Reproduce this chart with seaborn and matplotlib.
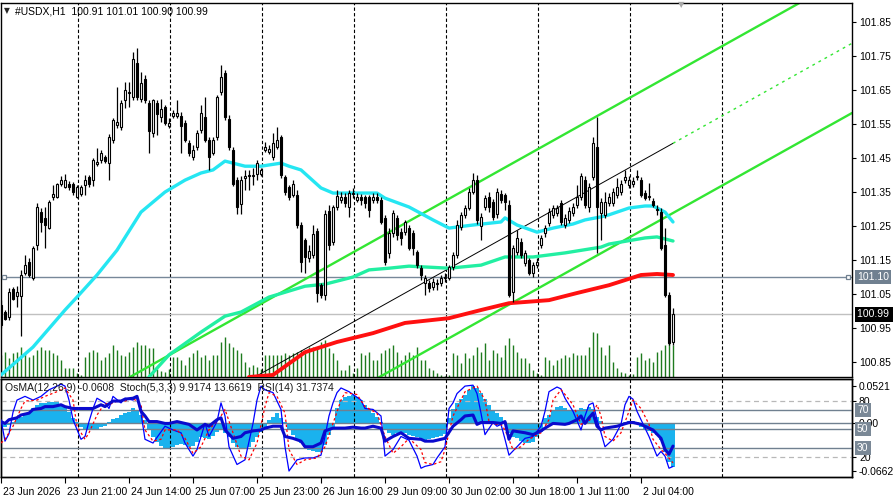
import numpy as np
import matplotlib
matplotlib.use("Agg")
import matplotlib.pyplot as plt
import matplotlib.transforms as mtransforms
import seaborn as sns

# ---------------- data ----------------
opens = [101.018,100.997,100.983,101.065,101.044,101.044,101.112,101.144,101.097,101.194,
101.291,101.274,101.244,101.336,101.336,101.374,101.365,101.374,101.374,101.336,
101.344,101.371,101.394,101.386,101.433,101.444,101.453,101.436,101.503,101.547,
101.541,101.621,101.641,101.630,101.730,101.624,101.683,101.612,101.524,101.612,
101.571,101.600,101.544,101.574,101.574,101.574,101.553,101.494,101.453,101.483,
101.533,101.571,101.503,101.465,101.512,101.644,101.700,101.565,101.474,101.386,
101.315,101.391,101.397,101.397,101.403,101.403,101.474,101.468,101.453,101.483,
101.512,101.394,101.365,101.342,101.342,101.253,101.209,101.156,101.165,101.236,
101.077,101.047,101.294,101.203,101.306,101.327,101.336,101.306,101.344,101.327,
101.336,101.336,101.336,101.327,101.336,101.327,101.274,101.171,101.230,101.274,
101.233,101.233,101.244,101.230,101.174,101.127,101.083,101.083,101.071,101.080,
101.083,101.097,101.097,101.130,101.165,101.247,101.283,101.303,101.350,101.386,
101.250,101.306,101.336,101.321,101.286,101.344,101.342,101.312,101.056,101.174,
101.203,101.142,101.150,101.112,101.136,101.194,101.230,101.259,101.283,101.289,
101.318,101.253,101.268,101.289,101.312,101.336,101.386,101.306,101.394,101.483,
101.289,101.283,101.318,101.318,101.342,101.350,101.386,101.371,101.374,101.394,
101.386,101.347,101.336,101.324,101.297,101.291,101.194,101.047,100.910]
highs = [101.033,101.003,101.068,101.071,101.074,101.121,101.165,101.156,101.191,101.318,
101.303,101.306,101.327,101.371,101.377,101.397,101.403,101.383,101.380,101.371,
101.371,101.400,101.400,101.450,101.480,101.474,101.459,101.521,101.568,101.659,
101.621,101.674,101.674,101.762,101.774,101.703,101.694,101.621,101.624,101.621,
101.624,101.606,101.568,101.591,101.621,101.586,101.562,101.503,101.489,101.533,
101.606,101.630,101.512,101.512,101.636,101.724,101.709,101.577,101.483,101.394,
101.397,101.415,101.415,101.421,101.444,101.421,101.497,101.489,101.524,101.541,
101.518,101.400,101.371,101.386,101.356,101.262,101.215,101.194,101.253,101.244,
101.083,101.297,101.312,101.312,101.356,101.350,101.347,101.356,101.362,101.347,
101.344,101.342,101.342,101.347,101.347,101.336,101.283,101.244,101.297,101.283,
101.244,101.268,101.253,101.239,101.180,101.136,101.106,101.091,101.097,101.094,
101.106,101.112,101.136,101.174,101.268,101.291,101.312,101.362,101.406,101.400,
101.289,101.342,101.350,101.330,101.362,101.356,101.347,101.327,101.194,101.239,
101.215,101.180,101.156,101.144,101.156,101.224,101.253,101.303,101.312,101.312,
101.327,101.286,101.306,101.318,101.371,101.406,101.397,101.377,101.512,101.571,
101.333,101.350,101.347,101.362,101.391,101.386,101.415,101.397,101.394,101.415,
101.394,101.356,101.377,101.333,101.312,101.303,101.244,101.056,101.010]
lows = [100.950,100.974,100.974,101.033,101.012,100.927,101.106,101.100,101.091,101.180,
101.233,101.186,101.242,101.327,101.333,101.368,101.362,101.356,101.342,101.333,
101.339,101.342,101.365,101.368,101.427,101.436,101.436,101.386,101.494,101.539,
101.533,101.597,101.600,101.621,101.621,101.615,101.612,101.465,101.512,101.518,
101.556,101.547,101.539,101.568,101.568,101.465,101.497,101.456,101.444,101.474,
101.524,101.497,101.415,101.459,101.503,101.636,101.562,101.474,101.368,101.286,
101.286,101.356,101.356,101.371,101.386,101.397,101.468,101.462,101.444,101.477,
101.391,101.342,101.327,101.336,101.244,101.115,101.112,101.144,101.156,101.027,
101.039,101.033,101.180,101.194,101.297,101.318,101.306,101.277,101.333,101.321,
101.312,101.303,101.277,101.318,101.318,101.256,101.136,101.156,101.218,101.209,
101.194,101.224,101.180,101.165,101.127,101.091,101.047,101.056,101.062,101.062,
101.074,101.086,101.091,101.121,101.156,101.239,101.274,101.297,101.344,101.256,
101.209,101.297,101.291,101.268,101.274,101.318,101.297,101.041,101.027,101.165,
101.156,101.133,101.106,101.100,101.127,101.186,101.218,101.250,101.274,101.280,
101.253,101.244,101.259,101.280,101.303,101.327,101.303,101.291,101.386,101.171,
101.209,101.274,101.309,101.309,101.333,101.342,101.377,101.362,101.365,101.386,
101.336,101.327,101.327,101.306,101.283,101.180,101.041,100.900,100.900]
closes = [100.959,100.977,101.056,101.036,101.056,101.106,101.136,101.106,101.186,101.306,
101.262,101.253,101.321,101.344,101.374,101.386,101.386,101.365,101.350,101.365,
101.365,101.386,101.374,101.444,101.439,101.465,101.441,101.512,101.562,101.556,
101.612,101.650,101.644,101.741,101.630,101.671,101.621,101.530,101.621,101.580,
101.594,101.553,101.553,101.583,101.583,101.544,101.503,101.465,101.474,101.524,
101.583,101.503,101.453,101.503,101.630,101.689,101.571,101.483,101.374,101.306,
101.386,101.397,101.400,101.400,101.436,101.415,101.483,101.477,101.494,101.503,
101.400,101.350,101.336,101.374,101.253,101.144,101.159,101.177,101.227,101.053,
101.047,101.286,101.194,101.306,101.339,101.336,101.318,101.347,101.347,101.336,
101.327,101.318,101.297,101.336,101.327,101.262,101.144,101.230,101.289,101.224,
101.215,101.262,101.186,101.186,101.136,101.106,101.097,101.068,101.086,101.083,
101.097,101.100,101.130,101.165,101.253,101.283,101.303,101.350,101.386,101.268,
101.277,101.333,101.306,101.277,101.350,101.327,101.321,101.047,101.186,101.215,
101.165,101.171,101.112,101.136,101.144,101.215,101.244,101.291,101.303,101.303,
101.262,101.274,101.294,101.306,101.336,101.397,101.312,101.365,101.494,101.306,
101.321,101.321,101.336,101.350,101.365,101.374,101.394,101.386,101.383,101.397,
101.342,101.333,101.339,101.312,101.300,101.186,101.047,100.906,100.990]
volumes = [22,25,19,24,25,30,24,20,22,27,
30,27,27,24,22,17,9,9,9,4,
2,20,25,27,25,17,20,24,32,27,
22,21,25,30,35,32,32,29,29,8,
6,5,8,20,20,17,12,20,24,27,
20,22,17,22,22,35,40,34,30,27,
24,15,10,12,10,8,22,22,22,22,
22,24,22,24,25,27,25,30,30,30,
35,37,29,24,17,7,7,12,4,9,
24,22,25,17,17,24,27,29,32,25,
17,22,25,22,30,17,17,9,7,4,
2,1,2,24,22,14,24,19,22,30,
25,34,17,27,24,20,32,39,32,25,
19,19,14,7,4,2,20,17,12,17,
19,22,20,24,22,22,22,30,45,44,
30,22,32,15,9,5,4,2,3,20,
24,17,19,15,25,27,32,34,32]

ma_cyan_bars = [0,8,16,19,24,29,35,41,46,50,53,56,58,61,65,70,72,75,80,83,94,96,102,108,112,118,125,126,129,134,138,143,146,150,152,157,161,163,166,168]
ma_cyan = [100.812,100.894,101.003,101.041,101.106,101.179,101.291,101.350,101.385,101.406,101.415,101.441,101.435,101.426,101.426,101.435,101.426,101.415,101.362,101.347,101.347,101.332,101.306,101.268,101.244,101.253,101.262,101.274,101.253,101.232,101.244,101.256,101.268,101.277,101.283,101.303,101.309,101.309,101.291,101.262]
ma_teal_bars = [37,42,50,56,60,67,76,81,88,92,97,102,112,120,126,133,141,150,152,161,164,168]
ma_teal = [100.806,100.871,100.938,100.985,100.997,101.041,101.073,101.079,101.100,101.121,101.126,101.132,101.126,101.135,101.159,101.159,101.171,101.188,101.197,101.215,101.218,101.206]
ma_red_bars = [62,68,76,84,93,101,112,120,127,137,144,152,160,164,168]
ma_red = [100.806,100.812,100.879,100.909,100.935,100.965,100.979,101.003,101.023,101.032,101.053,101.076,101.106,101.109,101.106]

channel_anchor_bars = [75, 150]
channel_upper = [101.087, 101.580]
channel_middle = [100.882, 101.375]
channel_lower = [100.677, 101.170]

osma = [-0.0070,-0.0056,-0.0023,0.0023,0.0056,0.0093,0.0130,0.0162,0.0209,0.0255,
0.0278,0.0288,0.0297,0.0302,0.0292,0.0269,0.0232,0.0162,0.0070,0.0023,
-0.0056,-0.0084,-0.0093,-0.0084,-0.0074,-0.0056,-0.0037,0.0023,0.0056,0.0079,
0.0116,0.0148,0.0162,0.0209,0.0176,0.0116,0.0046,-0.0093,-0.0195,-0.0255,
-0.0316,-0.0339,-0.0348,-0.0325,-0.0302,-0.0288,-0.0302,-0.0325,-0.0316,-0.0255,
-0.0195,-0.0209,-0.0223,-0.0176,-0.0116,-0.0093,-0.0130,-0.0195,-0.0269,-0.0325,
-0.0339,-0.0348,-0.0325,-0.0255,-0.0186,-0.0116,-0.0056,0.0046,0.0093,0.0139,
0.0070,0.0023,-0.0093,-0.0162,-0.0223,-0.0278,-0.0325,-0.0371,-0.0380,-0.0394,
-0.0394,-0.0302,-0.0162,-0.0046,0.0209,0.0325,0.0371,0.0385,0.0394,0.0371,
0.0325,0.0255,0.0195,0.0139,0.0093,0.0023,-0.0093,-0.0139,-0.0162,-0.0139,
-0.0116,-0.0139,-0.0162,-0.0176,-0.0195,-0.0223,-0.0232,-0.0223,-0.0209,-0.0195,
-0.0176,-0.0148,0.0070,0.0195,0.0278,0.0334,0.0394,0.0464,0.0520,0.0487,
0.0418,0.0334,0.0255,0.0186,0.0139,0.0093,0.0023,-0.0139,-0.0195,-0.0209,
-0.0241,-0.0269,-0.0278,-0.0255,-0.0186,-0.0116,0.0070,0.0116,0.0176,0.0223,
0.0241,0.0209,0.0186,0.0176,0.0186,0.0209,0.0195,0.0232,0.0195,0.0093,
0.0037,0.0009,0.0005,-0.0009,0.0003,0.0009,0.0023,0.0032,0.0037,0.0023,
-0.0056,-0.0084,-0.0102,-0.0130,-0.0162,-0.0232,-0.0400,-0.0540,-0.0608]

stoch_bars = [0,1,2,3,4,6,8,10,12,15,16,17,18,20,21,22,23,24,26,27,28,30,31,33,34,35,36,38,40,41,43,45,46,48,49,51,52,54,55,56,57,59,61,63,64,65,66,68,70,71,72,74,76,78,80,81,82,83,84,85,87,88,90,91,93,95,96,98,100,102,104,105,106,108,109,111,112,113,114,116,118,119,120,121,123,124,125,126,127,129,131,133,135,136,137,139,140,141,143,145,146,147,148,149,150,151,153,155,156,157,158,159,161,162,164,165,166,167,168]
stoch_main = [60,37,45,68,81,85,81,85,92,98,96,81,60,39,42,58,72,83,78,72,85,78,83,81,85,67,39,35,47,53,49,46,35,21,28,56,42,58,78,64,31,12,17,56,81,96,92,89,71,31,5,17,19,19,22,42,64,78,89,94,90,87,81,72,71,64,21,28,42,38,21,8,10,12,19,31,72,78,88,96,97,88,67,44,57,53,55,39,22,31,40,42,53,69,90,95,93,83,69,49,64,76,78,60,46,31,39,55,76,85,82,69,51,42,21,26,21,8,9.92]
signal_bars = [0,1,3,5,6,9,11,14,16,18,19,21,22,24,26,27,29,31,33,35,36,38,40,41,44,46,48,50,52,55,56,58,60,62,64,66,67,69,71,72,74,76,79,81,83,85,86,89,91,94,96,98,100,102,105,106,108,110,111,113,115,116,119,121,122,123,125,126,128,130,132,135,137,138,140,141,143,145,147,149,150,151,153,155,157,158,160,162,163,165,166,168]
stoch_signal = [35,39,53,72,80,81,85,90,94,81,53,39,46,65,78,76,80,80,83,76,49,37,39,49,49,40,24,31,49,64,71,46,21,17,35,74,89,85,67,28,12,17,19,31,56,81,89,87,74,67,42,24,31,40,28,14,12,15,28,64,81,90,96,81,58,55,55,49,28,31,39,46,60,81,92,87,76,55,58,76,64,42,37,46,69,81,72,55,39,28,24,13.66]
rsi_bars = [0,1,2,4,5,7,8,10,11,13,15,16,18,21,23,25,26,28,30,31,33,34,35,36,37,39,41,42,44,46,47,49,51,52,54,55,56,58,60,61,63,65,66,68,70,71,73,75,76,78,80,81,83,85,86,88,90,91,93,95,96,98,100,102,105,106,108,110,111,113,115,116,118,119,120,123,125,126,127,128,131,133,135,136,138,141,142,144,145,146,147,148,149,150,151,154,157,158,160,162,163,165,166,167,168]
rsi = [58,56,60,62,65,67,71,72,74,74,76,74,72,72,72,76,74,80,80,82,83,85,69,64,58,58,56,56,58,56,55,49,55,53,60,62,49,40,42,46,48,49,51,53,53,42,40,37,31,31,35,48,51,51,51,52,51,51,53,51,37,42,46,40,39,37,37,39,40,53,60,64,65,55,57,57,56,58,39,48,46,44,48,51,56,55,56,60,64,56,62,67,53,49,51,53,57,57,55,51,49,40,28,23,31.74]

day_separator_bars = [19.25, 42.25, 65.25, 88.25, 111.25, 134.25, 157.25, 180.25]
x_tick_bars = [0, 16, 32, 48, 64, 80, 96, 112, 128, 144, 160]
x_tick_labels = ["23 Jun 2026", "23 Jun 21:00", "24 Jun 14:00", "25 Jun 07:00", "25 Jun 23:00",
                 "26 Jun 16:00", "29 Jun 09:00", "30 Jun 02:00", "30 Jun 18:00", "1 Jul 11:00", "2 Jul 04:00"]
price_ticks = [101.85, 101.75, 101.65, 101.55, 101.45, 101.35, 101.25, 101.15, 101.05, 100.95, 100.85]
marked_level = 101.10
bid_price = 100.99
title_text = "#USDX,H1  100.91 101.01 100.90 100.99"
sub_title = "OsMA(12,26,9) -0.0608  Stoch(5,3,3) 9.9174 13.6619  RSI(14) 31.7374"
osma_max, osma_min = 0.0521, -0.0662

# ---------------- styling ----------------
sns.set_style("white")
plt.rcParams['font.family'] = ['Liberation Sans', 'DejaVu Sans']
plt.rcParams['font.size'] = 7.5

W, H = 893, 496
fig = plt.figure(figsize=(W / 100, H / 100), dpi=100)
fig.patch.set_facecolor('white')


def axes_px(x0, y0, x1, y1):
    return fig.add_axes([x0 / W, 1 - y1 / H, (x1 - x0) / W, (y1 - y0) / H])


ax = axes_px(1, 3, 852, 377)
axs = axes_px(1, 379, 852, 477)
X_MAX = 851 / 4.0
VOL_AXIS_MAX = 374.0

for a in (ax, axs):
    a.set_xlim(0, X_MAX)
    for s in a.spines.values():
        s.set_color('black')
        s.set_linewidth(1.0)

ax.set_ylim(100.806, 101.906)
ax.set_xticks([])

idx = np.arange(len(closes))
o = np.array(opens); h = np.array(highs); l = np.array(lows); c = np.array(closes)

# volumes
ax.vlines(idx, 0, np.array(volumes) / VOL_AXIS_MAX, transform=ax.get_xaxis_transform(),
          color='#1E7B1E', lw=1.0, zorder=1)

# separators
for sb in day_separator_bars:
    ax.axvline(sb, color='black', lw=0.8, ls=(0, (3, 2)), zorder=1.5)

# horizontal lines
ax.axhline(bid_price, color='#C0C0C0', lw=1.0, zorder=1.6)
ax.axhline(marked_level, color='#778899', lw=1.0, zorder=1.6)
ax.plot([0.75, X_MAX - 1.0], [marked_level, marked_level], ls='none', marker='s', ms=3.5,
        mfc='white', mec='#708090', mew=0.9, zorder=9, clip_on=False)

# channel
def chan(vals, xs):
    b0, b1 = channel_anchor_bars
    return vals[0] + (vals[1] - vals[0]) * (np.asarray(xs) - b0) / (b1 - b0)

xs_full = np.array([20, X_MAX])
ax.plot(xs_full, chan(channel_upper, xs_full), color='#33E633', lw=1.7, zorder=2)
ax.plot(xs_full, chan(channel_lower, xs_full), color='#33E633', lw=1.7, zorder=2)
xs_mid = np.array([50, 168])
ax.plot(xs_mid, chan(channel_middle, xs_mid), color='black', lw=0.7, zorder=2.2)
xs_ext = np.array([168, X_MAX])
ax.plot(xs_ext, chan(channel_middle, xs_ext), color='#33E633', lw=1.0, ls=(0, (2, 3)), zorder=2.2)

# moving averages
sns.lineplot(x=ma_teal_bars, y=ma_teal, ax=ax, color='#22EFA2', linewidth=2.4, legend=False,
             estimator=None, sort=False, zorder=3)
sns.lineplot(x=ma_cyan_bars, y=ma_cyan, ax=ax, color='#25E6F2', linewidth=2.4, legend=False,
             estimator=None, sort=False, zorder=3)
sns.lineplot(x=ma_red_bars, y=ma_red, ax=ax, color='#FF1010', linewidth=2.8, legend=False,
             estimator=None, sort=False, zorder=3)

# candles
up = c >= o
ax.vlines(idx, l, h, color='black', lw=0.9, zorder=5)
body_bottom = np.minimum(o, c)
body_h = np.maximum(np.abs(c - o), 0.0009)
ax.bar(idx[up], body_h[up], bottom=body_bottom[up], width=0.6, color='white',
       edgecolor='black', linewidth=0.8, zorder=6)
ax.bar(idx[~up], body_h[~up], bottom=body_bottom[~up], width=0.6, color='black',
       edgecolor='black', linewidth=0.8, zorder=6)
ax.set_xlabel(''); ax.set_ylabel('')

# right price axis
ax.yaxis.tick_right()
ax.set_yticks(price_ticks)
ax.set_yticklabels([f"{p:.2f}" for p in price_ticks])
ax.tick_params(axis='y', right=True, left=False, labelright=True, labelleft=False,
               length=3, width=0.8, direction='out', pad=2, labelsize=7.5, colors='black')

def right_box(a, yv, text, fc):
    a.annotate(text, xy=(1, yv), xycoords=a.get_yaxis_transform(), xytext=(5, 0),
               textcoords='offset pixels', ha='left', va='center', color='white', fontsize=7.5,
               bbox=dict(boxstyle='square,pad=0.2', fc=fc, ec='none'), annotation_clip=False, zorder=10)

right_box(ax, marked_level, "101.10", '#708090')
right_box(ax, bid_price, "100.99 ", 'black')

# ---------------- sub window ----------------
axs.set_ylim(-0.0745, 0.0617)
axs.bar(idx, osma, width=0.8, color='#1AB2EE', edgecolor='none', linewidth=0, zorder=2)
axs.axhline(0, color='#708090', lw=1.0, zorder=3)
ax2 = axs.twinx()
ax2.set_ylim(-1.4, 103.6)
ax2.set_xlim(0, X_MAX)
for s in ax2.spines.values():
    s.set_color('black'); s.set_linewidth(1.0)
for sb in day_separator_bars:
    ax2.axvline(sb, color='black', lw=0.8, ls=(0, (3, 2)), zorder=1)
for lv in (80, 20):
    ax2.axhline(lv, color='#B8B8B8', lw=0.9, ls=(0, (4, 3)), zorder=1)
for lv in (70, 50, 30):
    ax2.axhline(lv, color='#708090', lw=1.0, zorder=1)
sns.lineplot(x=stoch_bars, y=stoch_main, ax=ax2, color='#0000FF', linewidth=0.9, legend=False,
             estimator=None, sort=False, zorder=3)
sns.lineplot(x=signal_bars, y=stoch_signal, ax=ax2, color='#FF0000', linewidth=0.9,
             linestyle=(0, (2, 2)), legend=False, estimator=None, sort=False, zorder=3)
sns.lineplot(x=rsi_bars, y=rsi, ax=ax2, color='#0A0ACD', linewidth=2.2, legend=False,
             estimator=None, sort=False, zorder=4)
ax2.set_xlabel(''); ax2.set_ylabel('')

axs.yaxis.tick_right()
axs.set_yticks([osma_max, 0.0, osma_min])
axs.set_yticklabels([f"{osma_max:.4f}", "0.00", f"{osma_min:.4f}"])
axs.tick_params(axis='y', right=True, left=False, labelright=True, labelleft=False,
                length=3, width=0.8, direction='out', pad=2, labelsize=7.5, colors='black')
ax2.set_yticks([80, 20])
ax2.set_yticklabels(['80', '20'])
ax2.tick_params(axis='y', right=True, left=False, labelright=True, labelleft=False,
                length=3, width=0.8, direction='out', pad=2, labelsize=7.5, colors='black')
for lv in (70, 50, 30):
    right_box(ax2, lv, str(lv), '#7A8896')

axs.set_xticks(x_tick_bars)
axs.set_xticklabels(x_tick_labels)
axs.tick_params(axis='x', bottom=True, length=4, width=0.8, direction='out', pad=3,
                labelsize=7.5, colors='black')
shift = mtransforms.ScaledTranslation(2 / 100, 0, fig.dpi_scale_trans)
for lbl in axs.get_xticklabels():
    lbl.set_ha('left')
    lbl.set_transform(lbl.get_transform() + shift)

# texts
fig.text(4 / W, 1 - 11 / H, '▼', fontsize=5.5, va='center', ha='left', family=['DejaVu Sans'])
fig.text(15 / W, 1 - 11 / H, title_text, fontsize=7.5, va='center', ha='left', color='black')
fig.text(5 / W, 1 - 388 / H, sub_title, fontsize=7.5, va='center', ha='left', color='#1A1A1A')
fig.text(681 / W, 1 - 5 / H, '▼', fontsize=6, va='center', ha='center', color='#A8A8A8',
         family=['DejaVu Sans'])

fig.savefig('out.png', dpi=100, facecolor='white')
